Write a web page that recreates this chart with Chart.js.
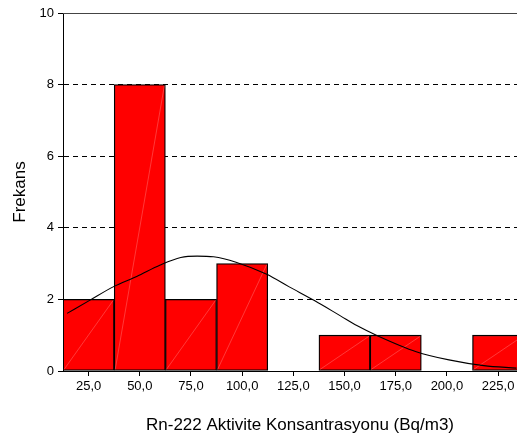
<!DOCTYPE html>
<html>
<head>
<meta charset="utf-8">
<script src="https://cdn.jsdelivr.net/npm/chart.js@4/dist/chart.umd.min.js"></script>
<style>
  html, body { margin: 0; padding: 0; background: #fff; overflow: hidden; width: 517px; height: 439px; }
  #wrap { position: absolute; left: 0; top: 0; width: 537px; height: 439px; }
</style>
</head>
<body>
<div id="wrap"><canvas id="hist" width="537" height="439"></canvas></div>
<script>
// Histogram bins (bin centres, width 25) and their counts
const binCenters = [25, 50, 75, 100, 125, 150, 175, 200, 225];
const frequencies = [2, 8, 2, 3, 0, 1, 1, 0, 1];

// Fitted normal curve, sampled along the axis
const curveX = [14.5, 25.7, 37, 48.5, 60, 70, 78, 86, 97, 112, 123, 135.5, 148, 156, 166.3, 185, 201, 218, 234];
const curveY = [1.61, 1.98, 2.35, 2.64, 2.96, 3.17, 3.21, 3.19, 3.04, 2.70, 2.35, 1.96, 1.54, 1.27, 0.98, 0.54, 0.31, 0.15, 0.08];

// Axis ticks
const xTicks = [25, 50, 75, 100, 125, 150, 175, 200, 225];
const yTicks = [0, 2, 4, 6, 8, 10];

const FONT = "'Liberation Sans', Arial, sans-serif";

const barData = binCenters.map((c, i) => ({ x: c, y: frequencies[i] }));
const curveData = curveX.map((x, i) => ({ x: x, y: curveY[i] }));

// Faint diagonal streak across each bar, bottom-left to top-right
const barStreaks = {
  id: 'barStreaks',
  afterDatasetDraw(chart, args) {
    if (args.index !== 0) return;
    const ctx = chart.ctx;
    const area = chart.chartArea;
    ctx.save();
    ctx.beginPath();
    ctx.rect(area.left, area.top, area.right - area.left, area.bottom - area.top);
    ctx.clip();
    ctx.strokeStyle = 'rgba(255, 175, 175, 0.55)';
    ctx.lineWidth = 0.6;
    args.meta.data.forEach(el => {
      const p = el.getProps(['x', 'y', 'base', 'width'], true);
      if (Math.abs(p.base - p.y) < 1) return;
      ctx.beginPath();
      ctx.moveTo(p.x - p.width / 2 + 1, p.base - 1);
      ctx.lineTo(p.x + p.width / 2 - 1, p.y + 1);
      ctx.stroke();
    });
    ctx.restore();
  }
};

// Solid frame line along the top value of the frequency axis
const topLine = {
  id: 'topLine',
  afterDraw(chart) {
    const y = chart.scales.y.getPixelForValue(yTicks[yTicks.length - 1]);
    const area = chart.chartArea;
    const ctx = chart.ctx;
    ctx.save();
    ctx.strokeStyle = '#444';
    ctx.lineWidth = 1;
    ctx.beginPath();
    ctx.moveTo(area.left, Math.round(y) + 0.5);
    ctx.lineTo(area.right, Math.round(y) + 0.5);
    ctx.stroke();
    ctx.restore();
  }
};

new Chart(document.getElementById('hist'), {
  type: 'bar',
  data: {
    datasets: [
      {
        type: 'bar',
        data: barData,
        backgroundColor: '#ff0000',
        borderColor: '#000',
        borderWidth: 1.3,
        borderSkipped: false,
        barPercentage: 1,
        categoryPercentage: 1,
        order: 1
      },
      {
        type: 'line',
        data: curveData,
        borderColor: '#000',
        borderWidth: 1.1,
        pointRadius: 0,
        fill: false,
        cubicInterpolationMode: 'monotone',
        order: 0
      }
    ]
  },
  options: {
    responsive: false,
    animation: false,
    events: [],
    layout: { padding: { top: 13, left: 0, right: 0, bottom: 0 } },
    plugins: { legend: { display: false }, tooltip: { enabled: false } },
    scales: {
      x: {
        type: 'linear',
        offset: false,
        min: 12.5,
        max: 244,
        afterBuildTicks: s => { s.ticks = xTicks.map(v => ({ value: v })); },
        afterFit: s => { s.height = 68; },
        grid: { display: true, drawOnChartArea: false, drawTicks: true, tickLength: 5, tickColor: '#000', offset: false },
        border: { display: true, color: '#000', width: 1 },
        ticks: {
          color: '#000',
          padding: 3,
          maxRotation: 0,
          autoSkip: false,
          font: { family: FONT, size: 13 },
          callback: v => v.toFixed(1).replace('.', ',')
        },
        title: {
          display: true,
          text: 'Rn-222 Aktivite Konsantrasyonu (Bq/m3)',
          color: '#000',
          font: { family: FONT, size: 17 },
          padding: { top: 0, bottom: 3 }
        }
      },
      y: {
        min: 0,
        max: 10,
        afterBuildTicks: s => { s.ticks = yTicks.map(v => ({ value: v })); },
        afterFit: s => { s.width = 63; },
        grid: {
          color: c => (c.tick && c.tick.value === 0) ? 'rgba(0,0,0,0)' : '#000',
          tickColor: '#000',
          lineWidth: 1,
          drawTicks: true,
          tickLength: 5
        },
        border: { display: true, color: '#000', width: 1, dash: [5, 4] },
        ticks: {
          color: '#000',
          padding: 4,
          font: { family: FONT, size: 13 }
        },
        title: {
          display: true,
          text: 'Frekans',
          color: '#000',
          font: { family: FONT, size: 17 },
          padding: { top: 10, bottom: 0 }
        }
      }
    }
  },
  plugins: [barStreaks, topLine]
});
</script>
</body>
</html>
